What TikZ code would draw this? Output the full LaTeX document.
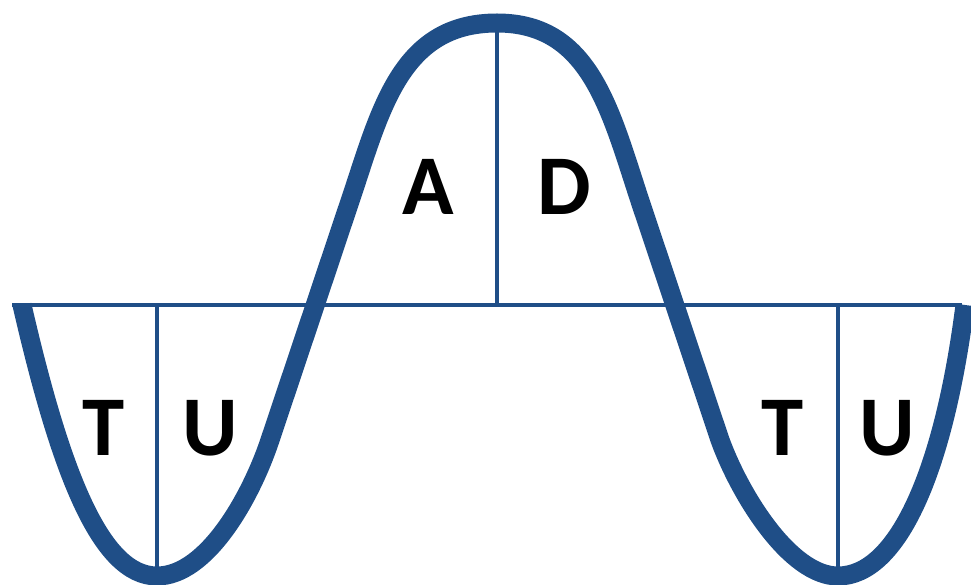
\documentclass[tikz,border=0pt]{standalone}
\usepackage{fontspec}
\setmainfont{Carlito}
\definecolor{wave}{RGB}{31,78,135}
\begin{document}
\begin{tikzpicture}[x=1pt,y=-1pt,
  axisline/.style={draw=wave,line width=4pt},
  waveline/.style={draw=wave,line width=19pt,line join=round},
  lbl/.style={inner sep=0pt,font=\fontsize{85}{85}\selectfont\bfseries}]
\useasboundingbox (0,0) rectangle (971,585);
\coordinate (hl) at (12,305);
\coordinate (hr) at (962,305);
\coordinate (t1) at (157,576);
\coordinate (t2) at (838,576);
\coordinate (pk) at (497,23);
\coordinate (v1) at (157,305);
\coordinate (v2) at (497,305);
\coordinate (v3) at (838,305);
\coordinate (s) at (22,305);
\coordinate (e) at (965,305);
\coordinate (l1) at (270,440);
\coordinate (l2) at (347,210);
\coordinate (r1) at (643,210);
\coordinate (r2) at (720,440);
\draw[axisline] (hl) -- (hr);
\draw[axisline] (v1) -- (t1);
\draw[axisline] (v2) -- (pk);
\draw[axisline] (v3) -- (t2);
\draw[waveline] (s) .. controls (60,470) and (100,576) .. (t1)
  .. controls (207,576) and (251,497) .. (l1)
  -- (l2)
  .. controls (379.5,115.4) and (397,23) .. (pk)
  .. controls (593,23) and (611,115) .. (r1)
  -- (r2)
  .. controls (740,495) and (790,576) .. (t2)
  .. controls (898,576) and (944,470) .. (e);
\node[lbl] (T1) at (104,428) {T};
\node[lbl] (U1) at (210,428) {U};
\node[lbl] (A) at (428,187) {A};
\node[lbl] (D) at (564,187) {D};
\node[lbl] (T2) at (783,428) {T};
\node[lbl] (U2) at (887,428) {U};
\end{tikzpicture}
\end{document}
